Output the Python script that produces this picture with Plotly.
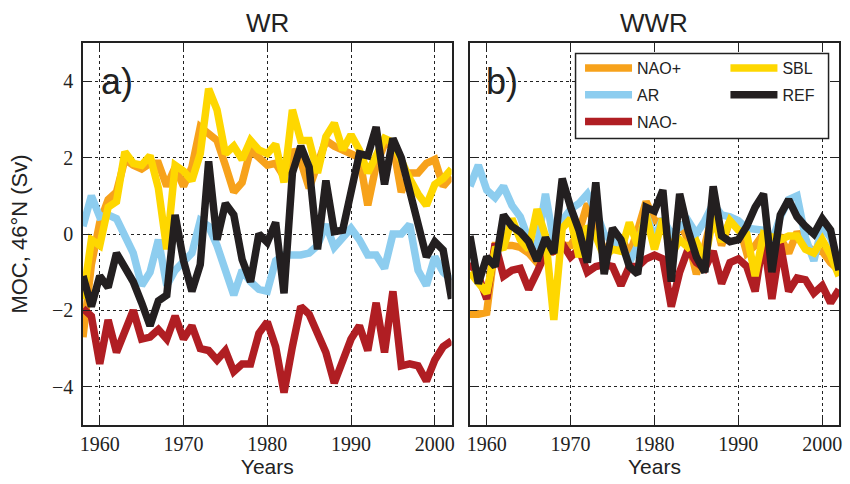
import plotly.graph_objects as go

# Annual MOC anomalies at 46°N (Sv), 1958-2002
years = list(range(1958, 2003))

# Panel a) WR experiments
wr_nao_pos = [-2.7, -0.8, 0.3, 0.9, 1.1, 1.95, 1.8, 1.7, 1.85, 1.85,
              1.25, 1.75, 1.25, 1.75, 2.8, 2.6, 2.45, 1.8, 1.1, 1.35,
              2.2, 2.0, 1.8, 1.85, 1.5, 2.2, 1.9, 1.2, 1.9, 2.45,
              2.3, 2.2, 2.1, 2.0, 0.75, 1.8, 2.35, 2.35, 1.1, 1.6,
              1.6, 1.85, 1.95, 1.25, 1.5]
wr_ar = [0.2, 1.0, 0.45, 0.5, 0.4, -0.1, -0.5, -1.35, -1.0, -0.15,
         -1.35, -0.95, -0.7, -0.5, 0.35, 0.2, -0.3, -0.95, -1.6, -0.95,
         -1.25, -1.45, -1.5, -0.7, -0.55, -0.55, -0.55, -0.5, -0.3, 0.25,
         -0.35, -0.1, 0.15, -0.15, -0.55, -0.55, -0.9, 0.0, 0.0, 0.25,
         -0.95, -1.35, -0.6, -1.0, -1.2]
wr_nao_neg = [-1.95, -2.15, -3.4, -2.25, -3.1, -2.5, -2.0, -2.75, -2.7, -2.5,
              -2.75, -2.15, -2.75, -2.4, -3.0, -3.05, -3.3, -3.05, -3.6, -3.4,
              -3.4, -2.6, -2.3, -2.95, -4.15, -2.95, -1.9, -2.1, -2.6, -3.1,
              -3.9, -3.3, -2.75, -2.4, -3.05, -1.8, -3.1, -1.5, -3.45, -3.4,
              -3.45, -3.85, -3.3, -2.95, -2.8]
wr_sbl = [-1.7, -0.15, -0.3, 0.7, 0.85, 2.15, 1.85, 1.8, 2.05, 1.2,
          -0.4, 1.8, 1.65, 1.4, 2.1, 3.8, 3.25, 2.1, 2.3, 1.95,
          2.45, 2.2, 2.1, 2.35, 1.35, 3.25, 2.45, 2.45, 1.6, 2.55,
          2.9, 2.2, 2.6, 2.2, 1.6, 2.1, 2.5, 2.4, 1.9, 1.45,
          1.05, 0.75, 1.3, 1.45, 1.7]
wr_ref = [-1.1, -1.9, -1.1, -1.4, -0.5, -0.85, -1.25, -1.8, -2.4, -1.75,
          -1.6, 0.5, -0.7, -1.5, -0.8, 1.9, -0.15, 0.8, 0.5, -0.67,
          -1.25, 0.0, -0.22, 0.3, -1.55, 1.6, 2.3, 1.75, -0.4, 1.4,
          0.06, 0.1, 1.0, 2.1, 2.05, 2.8, 1.3, 2.5, 2.0, 1.15,
          0.2, -0.6, -0.2, -0.42, -1.7]

# Panel b) WWR experiments
wwr_nao_pos = [-2.1, -2.1, -2.05, -0.3, -0.3, -0.3, -0.35, -0.5, -0.75, -0.15,
               -0.45, -0.3, -0.3, 0.05, 0.8, 0.1, -0.4, -0.35, -0.05, -0.55,
               0.1, 0.85, 0.35, 0.3, -0.3, 0.3, -0.15, -1.05, -0.3, 0.6,
               -0.3, 0.35, 0.3, -0.5, -0.3, 0.0, -0.15, -0.1, -0.5, 0.05,
               -0.3, -0.45, -0.45, -0.75, -0.95]
wwr_ar = [1.25, 1.8, 1.15, 0.95, 1.25, 0.75, 0.45, -0.15, -0.35, 1.05,
          -0.2, 0.35, 0.65, 0.8, 1.05, 0.6, 0.0, -0.2, -0.25, -0.75,
          -0.3, 0.5, -0.1, 0.4, 0.0, 0.2, 0.35, 0.0, 0.35, 0.8,
          0.5, 0.45, 0.35, 0.15, 0.1, 0.1, -0.2, 0.45, 0.9, 1.0,
          -0.1, -0.7, 0.2, -0.1, -0.8]
wwr_nao_neg = [-0.75, -1.1, -1.7, -0.25, -1.1, -0.95, -0.9, -1.45, -1.0, -0.5,
               -0.45, -0.25, -0.6, -0.4, -1.0, -0.85, -0.8, -0.85, -1.35, -0.85,
               -0.85, -0.65, -0.55, -0.65, -1.9, -1.0, -0.4, -0.75, -0.9, -0.45,
               -1.3, -0.75, -0.65, -0.85, -1.5, -0.1, -1.7, -0.25, -1.5, -1.15,
               -1.2, -1.55, -1.35, -1.8, -1.45]
wwr_sbl = [-1.0, -1.3, -1.55, -0.4, -0.35, 0.4, -0.15, -0.4, 0.65, -0.05,
           -2.25, 0.15, 0.4, -0.6, 0.2, -0.05, -0.6, -0.4, -0.45, 0.3,
           -0.3, 0.5, -0.4, 0.4, -0.55, -0.15, -0.35, -0.2, -0.7, 0.45,
           -0.2, 0.35, 0.1, 0.0, -1.1, 0.0, -0.1, -0.15, -0.05, -0.05,
           -0.4, -0.5, -0.15, -0.55, -1.1]
wwr_ref = [-0.05, -1.3, -0.6, -0.85, 0.5, 0.2, 0.05, -0.2, -0.7, -0.1,
           -0.5, 1.45, 0.7, 0.1, -0.75, 1.35, -1.05, 0.15, -0.15, -0.85,
           -1.05, 0.7, 0.6, 1.15, -1.25, 1.05, 0.1, -0.6, -1.0, 1.25,
           -0.05, -0.2, -0.15, 0.2, 0.7, 1.05, -1.0, 0.5, 0.9, 0.45,
           0.2, 0.0, 0.4, 0.1, -0.95]

series_names = ["NAO+", "AR", "NAO-", "SBL", "REF"]
series_colors = ["#F7A21B", "#8DCDEF", "#B01E23", "#FED700", "#231F20"]
wr_series = [wr_nao_pos, wr_ar, wr_nao_neg, wr_sbl, wr_ref]
wwr_series = [wwr_nao_pos, wwr_ar, wwr_nao_neg, wwr_sbl, wwr_ref]
legend_ids = ["legend", "legend", "legend", "legend2", "legend2"]

panel_titles = ["WR", "WWR"]
panel_tags = ["a)", "b)"]
x_ticks = [1960, 1970, 1980, 1990, 2000]
y_ticks = [-4, -2, 0, 2, 4]
y_ticktext = ["\u22124", "\u22122", "0", "2", "4"]

LINE_W = 7.5

fig = go.Figure()

for i, name in enumerate(series_names):
    fig.add_trace(go.Scatter(
        x=years, y=wr_series[i], mode="lines", name=name,
        line=dict(color=series_colors[i], width=LINE_W),
        xaxis="x", yaxis="y", legend=legend_ids[i], legendgroup=name,
    ))
for i, name in enumerate(series_names):
    fig.add_trace(go.Scatter(
        x=years, y=wwr_series[i], mode="lines", name=name,
        line=dict(color=series_colors[i], width=LINE_W),
        xaxis="x2", yaxis="y2", showlegend=False, legendgroup=name,
    ))

W, H = 850, 484
ml, mr, mt, mb = 83, 8, 43, 59
pw, ph = W - ml - mr, H - mt - mb


def px_x(p):
    return (p - ml) / pw


def px_y(p):
    return (H - mb - p) / ph


SERIF = "Liberation Serif, Times New Roman, serif"
SANS = "Liberation Sans, Arial, sans-serif"
tick_font = dict(family=SERIF, size=20, color="#222")


def frame_axis(**kw):
    ax = dict(
        showline=True, linecolor="#222", linewidth=1.5, mirror="ticks",
        ticks="inside", ticklen=7, tickwidth=1, tickcolor="#222",
        showgrid=True, gridcolor="#222", gridwidth=1, griddash="dot",
        zeroline=False, tickfont=tick_font,
    )
    ax.update(kw)
    return ax


years_title = dict(text="Years", font=dict(size=21, family=SANS, color="#222"),
                   standoff=4)

fig.update_layout(
    width=W, height=H,
    margin=dict(l=ml, r=mr, t=mt, b=mb),
    paper_bgcolor="white", plot_bgcolor="white",
    font=dict(family=SANS, color="#222"),
    showlegend=True,
    xaxis=frame_axis(domain=[0, px_x(453)], anchor="y", range=[1958, 2002],
                     tickvals=x_ticks, title=years_title),
    xaxis2=frame_axis(domain=[px_x(471.5), 1], anchor="y2", range=[1958, 2002],
                      tickvals=x_ticks, title=years_title),
    yaxis=frame_axis(anchor="x", range=[-5, 5], tickvals=y_ticks,
                     ticktext=y_ticktext, ticklabelstandoff=4,
                     title=dict(text="MOC, 46°N (Sv)",
                                font=dict(size=22, family=SANS, color="#222"),
                                standoff=18)),
    yaxis2=frame_axis(anchor="x2", range=[-5, 5], tickvals=y_ticks,
                      showticklabels=False),
    legend=dict(x=px_x(582), y=px_y(51), xanchor="left", yanchor="top",
                bgcolor="rgba(0,0,0,0)", borderwidth=0,
                font=dict(size=16, family=SANS, color="#222"),
                traceorder="grouped", tracegroupgap=3, itemwidth=47),
    legend2=dict(x=px_x(728), y=px_y(51), xanchor="left", yanchor="top",
                 bgcolor="rgba(0,0,0,0)", borderwidth=0,
                 font=dict(size=16, family=SANS, color="#222"),
                 traceorder="grouped", tracegroupgap=3, itemwidth=47),
    shapes=[dict(type="rect", xref="paper", yref="paper",
                 x0=px_x(577.5), x1=px_x(831.5), y0=px_y(138.5), y1=px_y(53.5),
                 line=dict(color="#222", width=1.5), fillcolor="white",
                 layer="above")],
)

centers = [px_x((83 + 453) / 2), px_x((471.5 + 842) / 2)]
tag_x = [px_x(99), px_x(486)]
for i in range(2):
    fig.add_annotation(text=panel_titles[i], x=centers[i], y=px_y(23),
                       xref="paper", yref="paper", showarrow=False,
                       xanchor="center", yanchor="middle",
                       font=dict(size=26, family=SANS, color="#222"))
    fig.add_annotation(text=panel_tags[i], x=tag_x[i], y=px_y(81),
                       xref="paper", yref="paper", showarrow=False,
                       xanchor="left", yanchor="middle",
                       font=dict(size=36, family=SANS, color="#222"))

fig.write_html("out.html")
